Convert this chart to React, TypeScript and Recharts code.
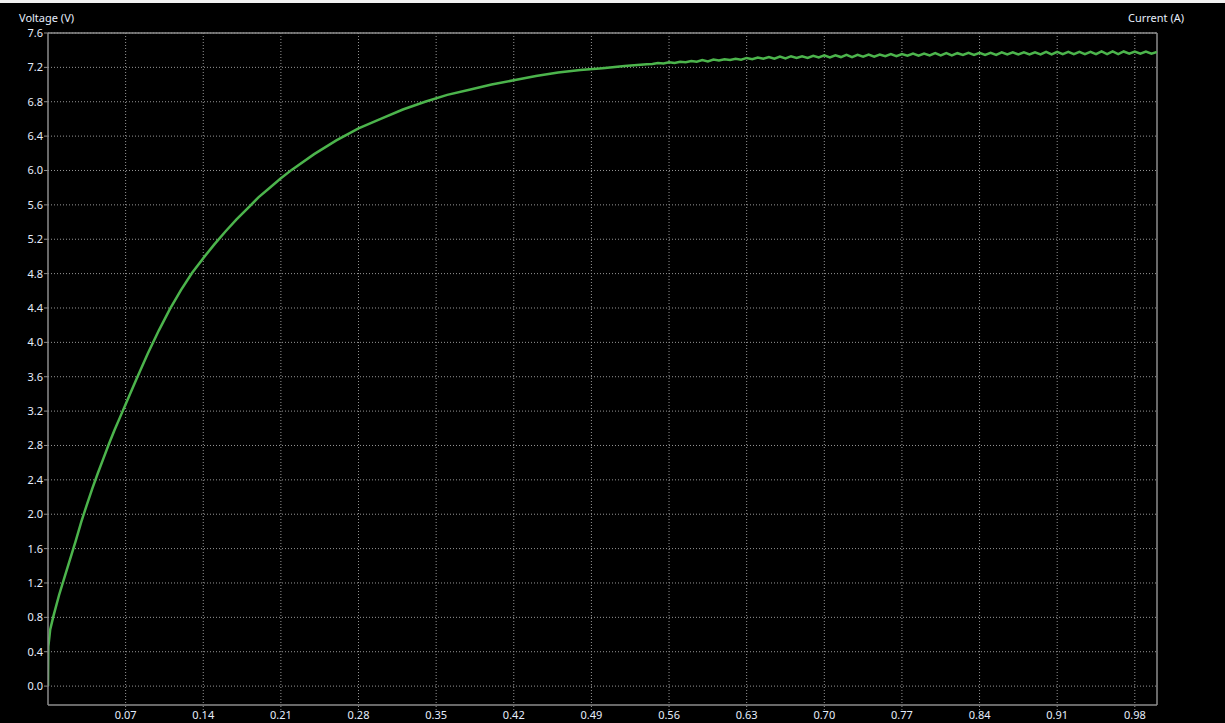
import React from "react";
import {
  LineChart,
  Line,
  XAxis,
  YAxis,
  CartesianGrid,
  ReferenceLine,
} from "recharts";

// rise portion, irregular sample times (s)
const riseTimes = [
  0, 0.0003, 0.002, 0.005, 0.01, 0.015, 0.02, 0.025, 0.03, 0.035, 0.04, 0.045,
  0.05, 0.055, 0.06, 0.065, 0.07, 0.08, 0.09, 0.1, 0.11, 0.12, 0.13, 0.14,
  0.15, 0.16, 0.17, 0.18, 0.19, 0.2, 0.21, 0.22, 0.24, 0.26, 0.28, 0.3, 0.32,
  0.34, 0.36, 0.38, 0.4, 0.42, 0.44, 0.46, 0.48, 0.5, 0.52, 0.54,
];
const riseVolts = [
  0, 0.46, 0.66, 0.82, 1.06, 1.27, 1.48, 1.69, 1.91, 2.11, 2.3, 2.48, 2.65,
  2.82, 2.98, 3.13, 3.28, 3.58, 3.87, 4.14, 4.39, 4.61, 4.81, 4.98, 5.14, 5.29,
  5.43, 5.56, 5.69, 5.8, 5.91, 6.01, 6.19, 6.35, 6.49, 6.6, 6.71, 6.8, 6.88,
  6.94, 7.0, 7.05, 7.1, 7.14, 7.17, 7.19, 7.215, 7.235,
];

// settled portion with ripple, sampled every 5 ms from 0.545 s
const rippleStart = 0.545;
const rippleStep = 0.005;
const rippleVolts = [
  7.24, 7.25, 7.245, 7.26, 7.25, 7.265, 7.26, 7.275, 7.265, 7.285,
  7.27, 7.29, 7.28, 7.295, 7.285, 7.3, 7.29, 7.31, 7.295, 7.315,
  7.3, 7.32, 7.3, 7.325, 7.305, 7.33, 7.31, 7.33, 7.31, 7.335,
  7.315, 7.34, 7.315, 7.34, 7.32, 7.345, 7.32, 7.345, 7.325, 7.35,
  7.325, 7.35, 7.33, 7.355, 7.33, 7.355, 7.335, 7.36, 7.335, 7.36,
  7.34, 7.365, 7.34, 7.365, 7.34, 7.365, 7.345, 7.37, 7.345, 7.37,
  7.345, 7.37, 7.345, 7.375, 7.35, 7.375, 7.35, 7.375, 7.35, 7.375,
  7.35, 7.38, 7.35, 7.38, 7.355, 7.38, 7.355, 7.38, 7.355, 7.38,
  7.355, 7.385, 7.355, 7.385, 7.355, 7.385, 7.36, 7.385, 7.36, 7.385,
  7.36, 7.38,
];

const xTicks = [0.07, 0.14, 0.21, 0.28, 0.35, 0.42, 0.49, 0.56, 0.63, 0.7, 0.77, 0.84, 0.91, 0.98];
const yTicks = [0, 0.4, 0.8, 1.2, 1.6, 2.0, 2.4, 2.8, 3.2, 3.6, 4.0, 4.4, 4.8, 5.2, 5.6, 6.0, 6.4, 6.8, 7.2, 7.6];

const data = [
  ...riseTimes.map((t, i) => ({ t, v: riseVolts[i] })),
  ...rippleVolts.map((v, i) => ({ t: +(rippleStart + i * rippleStep).toFixed(3), v })),
];

const GRID = "rgb(150,150,150)";
const AXIS = "rgb(140,140,140)";
const TEXT = "rgb(230,238,252)";
const FONT = '"Segoe UI", "Noto Sans", "Liberation Sans", sans-serif';

export default function App() {
  const tick = { fill: TEXT, fontSize: 11, fontFamily: FONT };
  return (
    <div style={{ position: "fixed", left: 0, top: 0, width: 1225, height: 723, background: "#000", fontFamily: FONT }}>
      <div style={{ position: "absolute", left: 0, top: 0, width: 1225, height: 3, background: "rgb(240,240,240)" }} />
      <div style={{ position: "absolute", left: 19, top: 11, fontSize: 11, lineHeight: "14px", color: TEXT }}>Voltage (V)</div>
      <div style={{ position: "absolute", left: 1128, top: 11, fontSize: 11, lineHeight: "14px", color: TEXT }}>Current (A)</div>
      <LineChart
        width={1225}
        height={723}
        data={data}
        margin={{ top: 33, right: 68, left: 0, bottom: 0 }}
        style={{ position: "absolute", left: 0, top: 0 }}
      >
        <CartesianGrid stroke={GRID} strokeDasharray="1 2" horizontalValues={yTicks} verticalValues={xTicks} />
        <XAxis
          dataKey="t"
          type="number"
          domain={[0, 1]}
          ticks={xTicks}
          tickFormatter={(v) => Number(v).toFixed(2)}
          tick={tick}
          axisLine={{ stroke: AXIS, strokeWidth: 1.5 }}
          tickLine={{ stroke: GRID, strokeDasharray: "1 2" }}
          tickSize={5}
          tickMargin={1}
          height={18}
          allowDataOverflow
          interval={0}
        />
        <YAxis
          type="number"
          domain={[-0.22, 7.6]}
          ticks={yTicks}
          tickFormatter={(v) => Number(v).toFixed(1)}
          tick={tick}
          axisLine={{ stroke: AXIS, strokeWidth: 1.5 }}
          tickLine={{ stroke: AXIS }}
          tickSize={4}
          tickMargin={1}
          width={48}
          allowDataOverflow
          interval={0}
        />
        <ReferenceLine y={7.6} stroke={AXIS} strokeWidth={1.5} />
        <ReferenceLine x={1} stroke={AXIS} strokeWidth={1.5} />
        <Line
          type="linear"
          dataKey="v"
          stroke="rgb(76,180,76)"
          strokeWidth={2.5}
          dot={false}
          isAnimationActive={false}
        />
      </LineChart>
    </div>
  );
}
